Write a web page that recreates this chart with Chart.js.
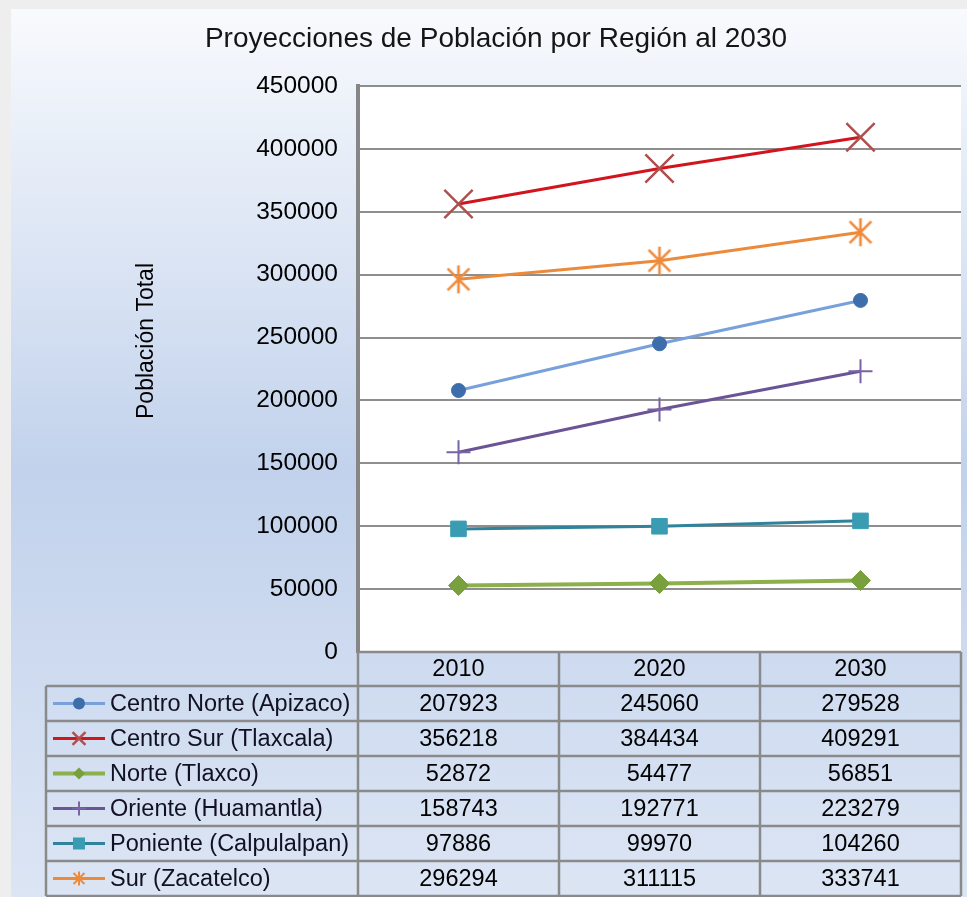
<!DOCTYPE html>
<html><head><meta charset="utf-8">
<script src="https://cdn.jsdelivr.net/npm/chart.js@4.4.1/dist/chart.umd.min.js"></script>
<style>html,body{margin:0;padding:0;background:#efefef;overflow:hidden}
#wrap{position:absolute;left:0;top:0;width:967px;height:897px}</style>
</head><body><div id="wrap"><canvas id="c" width="967" height="897"></canvas></div>
<script>
const chartTitle = 'Proyecciones de Población por Región al 2030';
const yAxisTitle = 'Población Total';
const categories = ['2010', '2020', '2030'];
const seriesNames = ['Centro Norte (Apizaco)', 'Centro Sur (Tlaxcala)', 'Norte (Tlaxco)', 'Oriente (Huamantla)', 'Poniente (Calpulalpan)', 'Sur (Zacatelco)'];
const centroNorte = [207923, 245060, 279528];
const centroSur = [356218, 384434, 409291];
const norte = [52872, 54477, 56851];
const oriente = [158743, 192771, 223279];
const poniente = [97886, 99970, 104260];
const sur = [296294, 311115, 333741];
const yMin = 0, yMax = 450000, yStep = 50000;

const FONT = '"Liberation Sans", Arial, sans-serif';

function makeAsterisk(size, color, lw) {
  const c = document.createElement('canvas');
  c.width = size; c.height = size;
  const x = c.getContext('2d');
  x.strokeStyle = color; x.lineWidth = lw; x.lineCap = 'butt';
  const m = size / 2, h = size / 2 - 1, d = h * 0.78;
  x.beginPath();
  x.moveTo(m, m - h); x.lineTo(m, m + h);
  x.moveTo(m - d, m - d); x.lineTo(m + d, m + d);
  x.moveTo(m + d, m - d); x.lineTo(m - d, m + d);
  x.stroke();
  return c;
}

const styles = [
  {line: '#78a1dc', fill: '#3e6dab', stroke: '#3e6dab', pt: 'circle', r: 7, bw: 1, lr: 6, lw: 3},
  {line: '#d1141d', fill: 'rgba(0,0,0,0)', stroke: '#b0504e', pt: 'crossRot', r: 20, bw: 2.5, lr: 9, lw: 3},
  {line: '#8cb04c', fill: '#78a03c', stroke: '#78a03c', pt: 'rectRot', r: 10, bw: 1, lr: 6, lw: 4},
  {line: '#6a5495', fill: 'rgba(0,0,0,0)', stroke: '#7a63a3', pt: 'cross', r: 12, bw: 2, lr: 7, lw: 3},
  {line: '#2f839a', fill: '#3a9cb3', stroke: '#3a9cb3', pt: 'rect', r: 11, bw: 1, lr: 8.5, lw: 3},
  {line: '#ec8a3b', fill: 'rgba(0,0,0,0)', stroke: '#ef8a3c', pt: 'asterisk', r: 14, bw: 2, lr: 7, lw: 3}
];
const seriesData = [centroNorte, centroSur, norte, oriente, poniente, sur];

const asteriskBig = makeAsterisk(30, '#ef8a3c', 2.6);

function drawMarker(ctx, s, x, y, r) {
  ctx.save();
  ctx.fillStyle = s.fill; ctx.strokeStyle = s.stroke; ctx.lineWidth = s.bw;
  ctx.beginPath();
  if (s.pt === 'circle') { ctx.arc(x, y, r, 0, Math.PI * 2); ctx.fill(); }
  else if (s.pt === 'crossRot') { const d = r * 0.72; ctx.moveTo(x - d, y - d); ctx.lineTo(x + d, y + d); ctx.moveTo(x + d, y - d); ctx.lineTo(x - d, y + d); ctx.stroke(); }
  else if (s.pt === 'rectRot') { ctx.moveTo(x - r, y); ctx.lineTo(x, y - r); ctx.lineTo(x + r, y); ctx.lineTo(x, y + r); ctx.closePath(); ctx.fill(); }
  else if (s.pt === 'cross') { ctx.moveTo(x - r, y); ctx.lineTo(x + r, y); ctx.moveTo(x, y - r); ctx.lineTo(x, y + r); ctx.stroke(); }
  else if (s.pt === 'rect') { const d = r * 0.707; ctx.fillRect(x - d, y - d, 2 * d, 2 * d); }
  else if (s.pt === 'asterisk') { const d = r * 0.78; ctx.moveTo(x, y - r); ctx.lineTo(x, y + r); ctx.moveTo(x - d, y - d); ctx.lineTo(x + d, y + d); ctx.moveTo(x + d, y - d); ctx.lineTo(x - d, y + d); ctx.stroke(); }
  ctx.restore();
}

const datasets = seriesNames.map((name, i) => {
  const s = styles[i];
  return {
    label: name,
    data: seriesData[i],
    borderColor: s.line,
    borderWidth: s.lw,
    backgroundColor: s.fill,
    pointBackgroundColor: s.fill,
    pointBorderColor: s.stroke,
    pointBorderWidth: s.bw,
    pointStyle: s.pt === 'asterisk' ? asteriskBig : s.pt,
    pointRadius: s.r,
    pointHoverRadius: s.r,
    tension: 0,
    fill: false
  };
});

const bgPlugin = {
  id: 'bg',
  beforeDraw(chart) {
    const ctx = chart.ctx, a = chart.chartArea;
    ctx.save();
    ctx.fillStyle = '#eeeeee';
    ctx.fillRect(0, 0, chart.width, chart.height);
    const g = ctx.createLinearGradient(0, 9, 0, 897);
    g.addColorStop(0, '#f8fafd');
    g.addColorStop(0.52, '#c2d2ec');
    g.addColorStop(1, '#dce5f4');
    ctx.fillStyle = g;
    ctx.fillRect(11, 9, chart.width - 11, chart.height - 9);
    ctx.fillStyle = '#ffffff';
    ctx.fillRect(a.left, a.top, a.right - a.left, a.bottom - a.top);
    ctx.restore();
  },
  afterDraw(chart) {
    const ctx = chart.ctx, a = chart.chartArea, xs = chart.scales.x;
    const n = categories.length;
    const colW = (a.right - a.left) / n;
    const headTop = a.bottom, headBot = a.bottom + 34, rowH = 35;
    const legLeft = 46;
    const nRows = seriesNames.length;
    const tableBot = headBot + rowH * nRows;
    ctx.save();
    ctx.fillStyle = '#151515';
    ctx.font = '28px ' + FONT;
    ctx.textAlign = 'center'; ctx.textBaseline = 'middle';
    ctx.fillText(chartTitle, 496, 39);
    ctx.save();
    ctx.translate(147, 341);
    ctx.rotate(-Math.PI / 2);
    ctx.font = '23px ' + FONT;
    ctx.fillStyle = '#000';
    ctx.fillText(yAxisTitle, 0, 0);
    ctx.restore();
    ctx.strokeStyle = '#8a8a8a';
    ctx.lineWidth = 2.5;
    ctx.beginPath();
    ctx.moveTo(a.left, headTop); ctx.lineTo(a.right, headTop);
    for (let r = 0; r <= nRows; r++) {
      const y = headBot + r * rowH;
      ctx.moveTo(legLeft, y); ctx.lineTo(a.right, y);
    }
    ctx.moveTo(legLeft, headBot); ctx.lineTo(legLeft, tableBot);
    for (let c = 0; c <= n; c++) {
      const x = a.left + c * colW;
      ctx.moveTo(x, headTop); ctx.lineTo(x, tableBot);
    }
    ctx.stroke();
    ctx.fillStyle = '#000';
    ctx.font = '23.5px ' + FONT;
    ctx.textAlign = 'center'; ctx.textBaseline = 'middle';
    categories.forEach((c, i) => {
      ctx.fillText(c, xs.getPixelForValue(i), (headTop + headBot) / 2 + 1);
    });
    seriesNames.forEach((name, r) => {
      const yc = headBot + r * rowH + rowH / 2 + 1;
      const s = styles[r];
      ctx.save();
      ctx.strokeStyle = s.line; ctx.lineWidth = s.lw;
      ctx.beginPath(); ctx.moveTo(53, yc - 1); ctx.lineTo(105, yc - 1); ctx.stroke();
      ctx.restore();
      drawMarker(ctx, s, 79, yc - 1, s.lr);
      ctx.fillStyle = '#111122';
      ctx.textAlign = 'left';
      ctx.fillText(name, 110, yc);
      ctx.fillStyle = '#000';
      ctx.textAlign = 'center';
      seriesData[r].forEach((v, i) => {
        ctx.fillText(String(v), xs.getPixelForValue(i), yc);
      });
    });
    ctx.restore();
  }
};

new Chart(document.getElementById('c'), {
  type: 'line',
  data: {labels: categories, datasets},
  plugins: [bgPlugin],
  options: {
    responsive: false,
    animation: false,
    devicePixelRatio: 1,
    layout: {autoPadding: false, padding: {left: 11, top: 86, right: 6, bottom: 245}},
    plugins: {legend: {display: false}, title: {display: false}, tooltip: {enabled: false}},
    events: [],
    scales: {
      x: {display: false, offset: true},
      y: {
        min: yMin, max: yMax,
        afterFit(s) { s.width = 347; },
        ticks: {stepSize: yStep, color: '#000', font: {family: FONT, size: 24.5}, padding: 20, callback: v => String(v)},
        grid: {color: '#8e8e8e', lineWidth: 2, drawTicks: false},
        border: {color: '#868686', width: 4}
      }
    }
  }
});
</script></body></html>
